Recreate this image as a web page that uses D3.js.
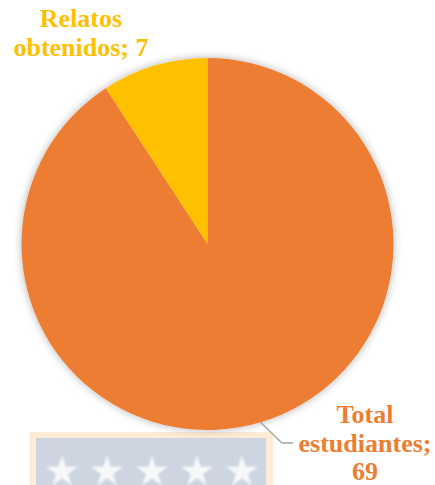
<!DOCTYPE html>
<html>
<head>
<meta charset="utf-8">
<script src="https://cdn.jsdelivr.net/npm/d3@7"></script>
<style>
  html, body { margin: 0; padding: 0; background: #ffffff; }
  svg { display: block; }
</style>
</head>
<body>
<svg id="chart" width="435" height="485"></svg>
<script>
// ---- data ----
const categories = ["Total estudiantes", "Relatos obtenidos"];
const values = [69, 7];
const sliceColors = ["#ED7D31", "#FFC000"];
const labelLines = [["Total", "estudiantes;", "69"], ["Relatos", "obtenidos; 7"]];

// ---- layout ----
const W = 435, H = 485;
const cx = 207.5, cy = 244, R = 186;

const svg = d3.select("#chart");
const defs = svg.append("defs");

const sh = defs.append("filter").attr("id", "shadow")
  .attr("x", "-20%").attr("y", "-20%").attr("width", "140%").attr("height", "140%");
sh.append("feDropShadow").attr("dx", 0).attr("dy", 0).attr("stdDeviation", 4)
  .attr("flood-color", "#000").attr("flood-opacity", 0.3);

const blur = defs.append("filter").attr("id", "soft");
blur.append("feGaussianBlur").attr("stdDeviation", 1.0);

// watermark box with stars (background decoration)
const wm = svg.append("g");
wm.append("rect").attr("x", 30).attr("y", 432).attr("width", 243).attr("height", 60)
  .attr("fill", "#FDEBD5");
wm.append("rect").attr("x", 36).attr("y", 438).attr("width", 230).attr("height", 60)
  .attr("fill", "#CDD6E0");
const starX = d3.scalePoint().domain(d3.range(5)).range([62, 242]);
const star = d3.symbol().type(d3.symbolStar).size(310);
wm.selectAll("path.star").data(d3.range(5)).join("path")
  .attr("class", "star")
  .attr("transform", d => `translate(${starX(d)},${472})`)
  .attr("d", star)
  .attr("fill", "#F7F8FA")
  .attr("filter", "url(#soft)");

// pie
const pie = d3.pie().sort(null).value(d => d);
const arcs = pie(values);
const arc = d3.arc().innerRadius(0).outerRadius(R);

const g = svg.append("g").attr("transform", `translate(${cx},${cy})`);
g.append("g").attr("filter", "url(#shadow)")
  .selectAll("path").data(arcs).join("path")
  .attr("d", arc)
  .attr("fill", (d, i) => sliceColors[i]);

// leader line for first slice
const a0 = arcs[0];
const mid = (a0.startAngle + a0.endAngle) / 2;
const p0 = [cx + R * Math.sin(mid), cy - R * Math.cos(mid)];
svg.append("polyline")
  .attr("points", [p0, [282, 443], [293, 443]].map(p => p.join(",")).join(" "))
  .attr("fill", "none").attr("stroke", "#A6A6A6").attr("stroke-width", 1.3);

// labels
const labelPos = [{x: 365, y: 423}, {x: 81, y: 27}];
labelLines.forEach((lines, i) => {
  const t = svg.append("text")
    .attr("text-anchor", "middle")
    .attr("font-family", "'Liberation Serif', 'Times New Roman', serif")
    .attr("font-weight", "bold")
    .attr("font-size", 26)
    .attr("fill", sliceColors[i]);
  lines.forEach((ln, j) => {
    t.append("tspan").attr("x", labelPos[i].x).attr("y", labelPos[i].y + j * 28.5).text(ln);
  });
});
</script>
</body>
</html>
